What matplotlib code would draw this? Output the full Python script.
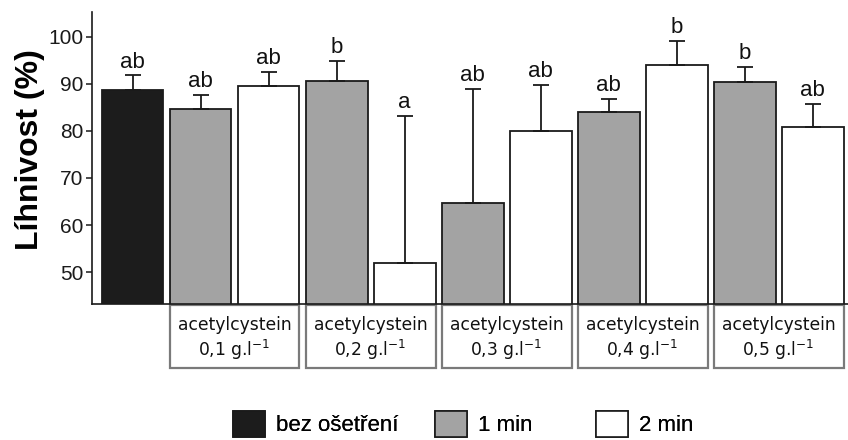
import numpy as np
import matplotlib
matplotlib.use("Agg")
import matplotlib.pyplot as plt
from matplotlib.patches import Patch, Rectangle
import matplotlib.transforms as mtransforms

plt.rcParams['font.family'] = ['Liberation Sans', 'DejaVu Sans']

# data
control_value = 88.7
control_err = 3.1
control_letter = 'ab'

concentrations = ['0,1', '0,2', '0,3', '0,4', '0,5']
min1_values = [84.6, 90.6, 64.7, 84.0, 90.4]
min1_err = [3.1, 4.3, 24.2, 2.9, 3.3]
min1_letters = ['ab', 'b', 'ab', 'ab', 'b']
min2_values = [89.6, 52.0, 79.9, 94.1, 80.9]
min2_err = [3.0, 31.2, 9.9, 5.0, 4.8]
min2_letters = ['ab', 'a', 'ab', 'b', 'ab']

legend_labels = ['bez ošetření', '1 min', '2 min']
colors = ['#1c1c1c', '#a3a3a3', '#ffffff']
edge = '#1a1a1a'

n = len(concentrations)
x_ctrl = np.array([0.0])
x1 = 1 + 2 * np.arange(n)
x2 = 2 + 2 * np.arange(n)
width = 0.91

fig = plt.figure(figsize=(8.48, 4.4), dpi=100)
ax = fig.add_axes([92 / 848, 1 - 304 / 440, 1 - 92 / 848, (304 - 12) / 440])

for xs, vals, errs, col in [(x_ctrl, [control_value], [control_err], colors[0]),
                            (x1, min1_values, min1_err, colors[1]),
                            (x2, min2_values, min2_err, colors[2])]:
    vals = np.array(vals)
    errs = np.array(errs)
    ax.bar(xs, vals, width=width, color=col, edgecolor=edge,
           linewidth=1.3, zorder=2)
    ax.errorbar(xs, vals, yerr=[np.zeros_like(errs), errs], fmt='none',
                ecolor=edge, elinewidth=1.3, capsize=5.8, capthick=1.3, zorder=3)

all_x = np.concatenate([x_ctrl, x1, x2])
all_top = np.concatenate([[control_value + control_err],
                          np.array(min1_values) + np.array(min1_err),
                          np.array(min2_values) + np.array(min2_err)])
all_letters = [control_letter] + min1_letters + min2_letters
for xx, yy, lab in zip(all_x, all_top, all_letters):
    ax.annotate(lab, (xx, yy), xytext=(0, 2), textcoords='offset points',
                ha='center', va='bottom', fontsize=16, color='#111111')

ax.set_xlim(-0.596, 10.52)
ax.set_ylim(43.2, 105.3)
ax.set_yticks([50, 60, 70, 80, 90, 100])
ax.set_xticks([])
ax.tick_params(axis='y', labelsize=15, length=4, width=1.1, colors='#1a1a1a', pad=2)
for s in ['top', 'right']:
    ax.spines[s].set_visible(False)
for s in ['left', 'bottom']:
    ax.spines[s].set_linewidth(1.2)
    ax.spines[s].set_color('#1a1a1a')
ax.set_ylabel('Líhnivost (%)', fontsize=23, fontweight='bold')
ax.yaxis.set_label_coords(-0.062, 0.53)

# group label boxes under the x axis
trans = mtransforms.blended_transform_factory(ax.transData, ax.transAxes)
for i, conc in enumerate(concentrations):
    left = x1[i] - width / 2
    right = x2[i] + width / 2
    ax.add_patch(Rectangle((left, -0.219), right - left, 0.215, transform=trans,
                           facecolor='white', edgecolor='#7a7a7a', linewidth=1.6,
                           clip_on=False))
    cx = (left + right) / 2
    ax.text(cx, -0.072, 'acetylcystein', transform=trans, ha='center', va='center',
            fontsize=12.3, fontfamily=['DejaVu Sans'], color='#111111')
    ax.text(cx, -0.158, conc + ' g.l$^{\\mathregular{-1}}$', transform=trans,
            ha='center', va='center', fontsize=12.3, fontfamily=['DejaVu Sans'],
            color='#111111')

# legend: three entries at their own positions
legend_x = [233, 435, 596]
for lx, lab, col in zip(legend_x, legend_labels, colors):
    leg = fig.legend(handles=[Patch(facecolor=col, edgecolor=edge, linewidth=1.2)],
                     labels=[lab], loc='center left',
                     bbox_to_anchor=(lx / 848, 1 - 424 / 440), frameon=False,
                     fontsize=16, handlelength=1.45, handleheight=1.45,
                     handletextpad=0.5, borderpad=0, borderaxespad=0)
    fig.add_artist(leg)

fig.savefig('out.png', dpi=100)
